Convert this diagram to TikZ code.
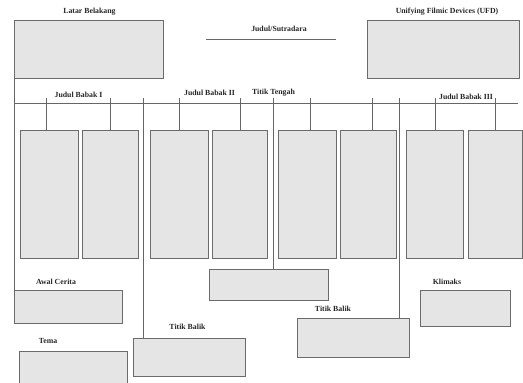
\documentclass[tikz,border=0pt]{standalone}
\usepackage{fontspec}
\setmainfont{Liberation Serif}
\begin{document}
\begin{tikzpicture}[x=1pt,y=-1pt,
  box/.style={draw=black!58,fill=black!10,line width=0.9pt,inner sep=0pt,anchor=north west},
  ln/.style={draw=black!60,line width=0.9pt},
  lbl/.style={font=\bfseries\fontsize{7.8}{8}\selectfont,text=black!85,inner sep=0pt}]
\useasboundingbox (0,0) rectangle (523,383);
% top boxes
\node[box,minimum width=149pt,minimum height=58pt] (lb) at (14,20) {};
\node[box,minimum width=152pt,minimum height=58pt] (ufd) at (367,20) {};
\node[lbl] (tlb) at (89.5,12) {Latar Belakang};
\node[lbl] (tufd) at (447,12) {Unifying Filmic Devices (UFD)};
\node[lbl] (tjs) at (279,29) {Judul/Sutradara};
\coordinate (js1) at (206,39);
\coordinate (js2) at (336,39);
\draw[ln] (js1) -- (js2);
% main horizontal line
\coordinate (h1) at (14,103);
\coordinate (h2) at (518,103);
\draw[ln] (h1) -- (h2);
\coordinate (top) at (0,97.5);
% act labels
\node[lbl] (tb1) at (78.5,95) {Judul Babak I};
\node[lbl] (tb2) at (209.5,93) {Judul Babak II};
\node[lbl] (ttt) at (273.5,93) {Titik Tengah};
\node[lbl] (tb3) at (466,97) {Judul Babak III};
% column boxes
\node[box,minimum width=58pt,minimum height=128pt] (c1) at (20,130) {};
\node[box,minimum width=56pt,minimum height=128pt] (c2) at (82,130) {};
\node[box,minimum width=58pt,minimum height=128pt] (c3) at (150,130) {};
\node[box,minimum width=55pt,minimum height=128pt] (c4) at (212,130) {};
\node[box,minimum width=58pt,minimum height=128pt] (c5) at (278,130) {};
\node[box,minimum width=56pt,minimum height=128pt] (c6) at (340,130) {};
\node[box,minimum width=57pt,minimum height=128pt] (c7) at (406,130) {};
\node[box,minimum width=54pt,minimum height=128pt] (c8) at (468,130) {};
% ticks
\draw[ln] ([xshift=-3pt]c1.north) -- ([xshift=-3pt]c1.north |- top);
\draw[ln] (c2.north) -- (c2.north |- top);
\draw[ln] (c3.north) -- (c3.north |- top);
\draw[ln] (c4.north) -- (c4.north |- top);
\draw[ln] ([xshift=3pt]c5.north) -- ([xshift=3pt]c5.north |- top);
\draw[ln] ([xshift=4pt]c6.north) -- ([xshift=4pt]c6.north |- top);
\draw[ln] (c7.north) -- (c7.north |- top);
\draw[ln] (c8.north) -- (c8.north |- top);
% bottom boxes
\node[box,minimum width=108pt,minimum height=33pt] (ac) at (14,290) {};
\node[lbl] (tac) at (56,282) {Awal Cerita};
\node[box,minimum width=108pt,minimum height=40pt] (tema) at (19,351) {};
\node[lbl] (ttema) at (48,341) {Tema};
\node[box,minimum width=112pt,minimum height=38pt] (bal1) at (133,338) {};
\node[lbl] (tbal1) at (187.5,327) {Titik Balik};
\node[box,minimum width=119pt,minimum height=31pt] (tt) at (209,269) {};
\node[box,minimum width=112pt,minimum height=39pt] (bal2) at (297,318) {};
\node[lbl] (tbal2) at (333,309) {Titik Balik};
\node[box,minimum width=90pt,minimum height=36pt] (kl) at (420,290) {};
\node[lbl] (tkl) at (447,282) {Klimaks};
% long vertical lines
\draw[ln] (lb.south west) -- (ac.north west);
\coordinate (v1) at (143,97.5);
\coordinate (v2) at (273,97.5);
\coordinate (v3) at (399,97.5);
\draw[ln] (v1) -- (v1 |- bal1.north);
\draw[ln] (v2) -- (v2 |- tt.north);
\draw[ln] (v3) -- (v3 |- bal2.north);
\end{tikzpicture}
\end{document}
